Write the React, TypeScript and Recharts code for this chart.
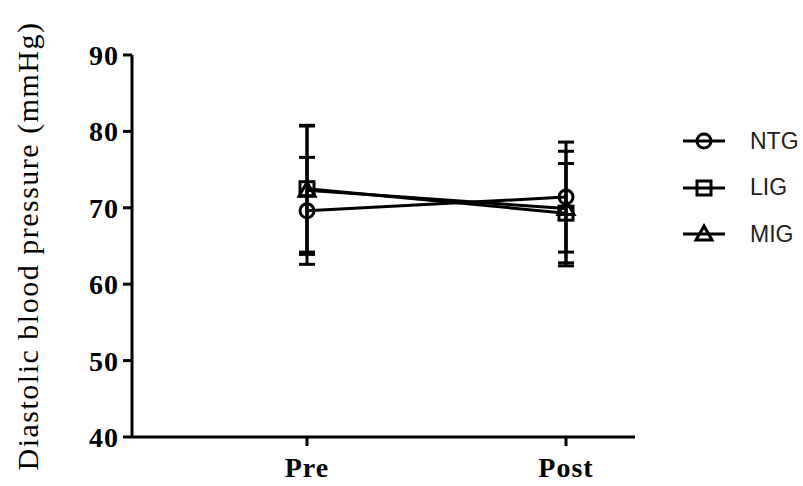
import { LineChart, Line, XAxis, YAxis, ErrorBar, Legend } from 'recharts'

const categories = ['Pre', 'Post']
const ntgMean = [69.6, 71.4]
const ntgSd = [7.0, 7.2]
const ligMean = [72.5, 69.3]
const ligSd = [8.3, 6.5]
const migMean = [72.3, 69.9]
const migSd = [8.4, 7.5]
const yTicks = [40, 50, 60, 70, 80, 90]

const data = categories.map((c, i) => ({
    name: c,
    ntg: ntgMean[i], ntgErr: ntgSd[i],
    lig: ligMean[i], ligErr: ligSd[i],
    mig: migMean[i], migErr: migSd[i],
}))

const serif = '"Liberation Serif", "Times New Roman", serif'

const CircleDot = (props: any) => {
    const { cx, cy } = props
    return <circle cx={cx} cy={cy} r={7} fill="none" stroke="#000" strokeWidth={3} />
}
const SquareDot = (props: any) => {
    const { cx, cy } = props
    return <rect x={cx - 7} y={cy - 7} width={14} height={14} fill="none" stroke="#000" strokeWidth={3} />
}
const TriangleDot = (props: any) => {
    const { cx, cy } = props
    return <polygon points={`${cx},${cy - 8} ${cx + 8},${cy + 6} ${cx - 8},${cy + 6}`} fill="none" stroke="#000" strokeWidth={3} />
}

const legendItems = [
    { label: 'NTG', shape: 'circle' },
    { label: 'LIG', shape: 'square' },
    { label: 'MIG', shape: 'triangle' },
]

function LegendBox() {
    return (
        <div>
            {legendItems.map((it) => (
                <div key={it.label} style={{ display: 'flex', alignItems: 'center', height: 46.5 }}>
                    <svg width={48} height={24}>
                        <line x1={3} y1={12} x2={45} y2={12} stroke="#000" strokeWidth={3} />
                        {it.shape === 'circle' && <CircleDot cx={24} cy={12} />}
                        {it.shape === 'square' && <SquareDot cx={24} cy={12} />}
                        {it.shape === 'triangle' && <TriangleDot cx={24} cy={12} />}
                    </svg>
                    <span style={{ marginLeft: 22, fontFamily: '"Liberation Sans", Arial, sans-serif', fontSize: 23, color: '#222' }}>{it.label}</span>
                </div>
            ))}
        </div>
    )
}

const YTitle = (props: any) => {
    const { viewBox } = props
    const cy = viewBox.y + viewBox.height / 2
    return (
        <text x={27} y={cy} transform={`rotate(-90, 27, ${cy})`} textAnchor="middle" dominantBaseline="central"
            fontFamily={serif} fontSize={30} letterSpacing={1.5} fill="#000">
            Diastolic blood pressure (mmHg)
        </text>
    )
}

export default function App() {
    const tickStyle = { fill: '#000', fontSize: 28, fontWeight: 'bold', fontFamily: serif, letterSpacing: 1 }
    return (
        <div style={{ position: 'absolute', left: 0, top: 0, width: 803, height: 486, background: '#fff' }}>
            <LineChart width={803} height={486} data={data} margin={{ top: 55, right: 45, bottom: 0, left: 0 }}>
                <XAxis dataKey="name" height={49} padding={{ left: 175, right: 69 }} stroke="#000" strokeWidth={3}
                    tickSize={9} tickMargin={11} tick={tickStyle} tickLine={{ stroke: '#000', strokeWidth: 3 }} />
                <YAxis domain={[40, 90]} ticks={yTicks} width={132} stroke="#000" strokeWidth={3}
                    tickSize={9} tickMargin={4} tick={tickStyle} tickLine={{ stroke: '#000', strokeWidth: 3 }}
                    label={<YTitle />} />
                <Legend layout="horizontal" verticalAlign="middle" align="right" content={<LegendBox />}
                    wrapperStyle={{ left: 680, top: 118, width: 123, right: 'auto', bottom: 'auto' }} />
                <Line dataKey="ntg" stroke="#000" strokeWidth={3} dot={<CircleDot />} activeDot={false} isAnimationActive={false}>
                    <ErrorBar dataKey="ntgErr" direction="y" width={8} stroke="#000" strokeWidth={3} />
                </Line>
                <Line dataKey="lig" stroke="#000" strokeWidth={3} dot={<SquareDot />} activeDot={false} isAnimationActive={false}>
                    <ErrorBar dataKey="ligErr" direction="y" width={8} stroke="#000" strokeWidth={3} />
                </Line>
                <Line dataKey="mig" stroke="#000" strokeWidth={3} dot={<TriangleDot />} activeDot={false} isAnimationActive={false}>
                    <ErrorBar dataKey="migErr" direction="y" width={8} stroke="#000" strokeWidth={3} />
                </Line>
            </LineChart>
        </div>
    )
}
